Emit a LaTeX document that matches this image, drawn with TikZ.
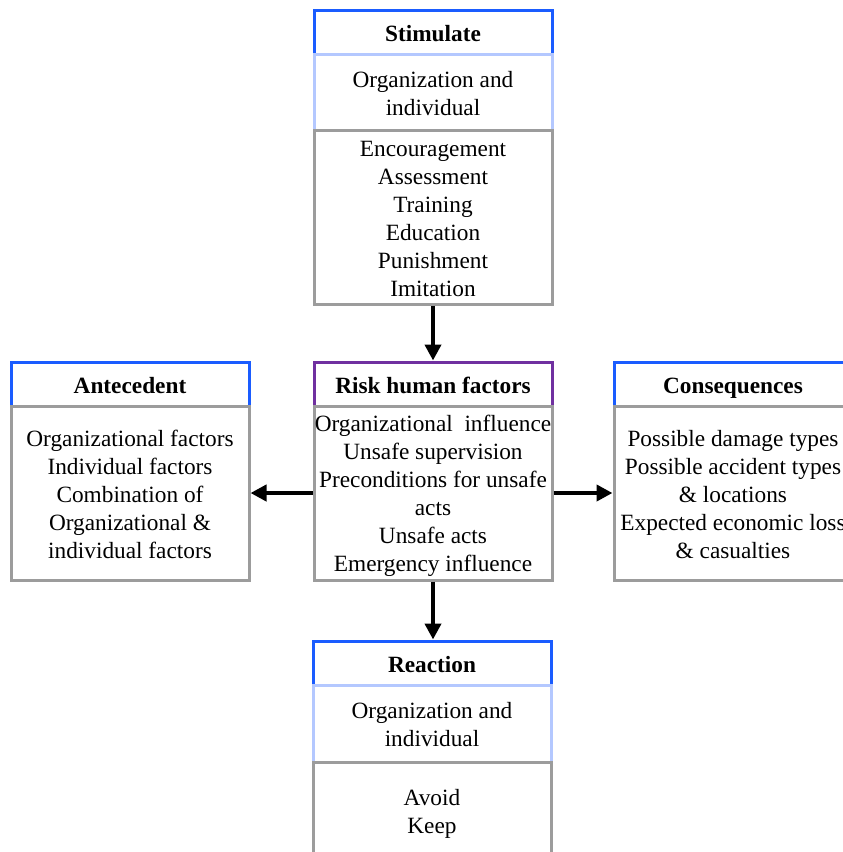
\documentclass[tikz,border=0pt]{standalone}
\usepackage{fontspec}
\setmainfont{Liberation Serif}
\usetikzlibrary{arrows.meta}
\definecolor{hblue}{HTML}{1A5CFF}
\definecolor{lblue}{HTML}{B4C8FF}
\definecolor{bgray}{HTML}{9C9C9C}
\definecolor{hpurple}{HTML}{7030A0}
% keep a fixed baseline distance between text lines
\lineskiplimit=-20pt
% line strut: 23pt above and 5pt below the baseline
\newcommand{\lnstrut}{\rule[-5pt]{0pt}{28pt}}
\begin{document}
\begin{tikzpicture}[x=1pt,y=-1pt,
  every node/.style={font=\fontsize{23.3}{28}\selectfont, align=center, inner sep=0pt},
  boxbase/.style={line width=3pt, minimum width=238pt, fill=white},
  hdr/.style={boxbase, draw=hblue, minimum height=44pt, text height=23pt, text depth=5pt,
    font=\fontsize{23.3}{28}\selectfont\bfseries},
  hdrp/.style={hdr, draw=hpurple},
  midbox/.style={boxbase, draw=lblue},
  bodybox/.style={boxbase, draw=bgray},
  arr/.style={line width=4.5pt, -{Triangle[length=16pt,width=16pt]}}]
\useasboundingbox (0,0) rectangle (843,852);
\clip (0,0) rectangle (843,852);

% Stimulate column (top)
\node[hdr] (stimhdr) at (433,32) {Stimulate};
\node[midbox, minimum height=76pt] (stimmid) at (433,92) {\lnstrut Organization and\\individual\lnstrut};
\node[bodybox, minimum height=174pt] (stimbody) at (433,217)
  {\lnstrut Encouragement\\Assessment\\Training\\Education\\Punishment\\Imitation\lnstrut};

% Risk human factors (centre)
\node[hdrp] (riskhdr) at (433,384) {Risk human factors};
\node[bodybox, minimum height=174pt] (riskbody) at (433,493)
  {\lnstrut Organizational\ \ influence\\Unsafe supervision\\Preconditions for unsafe\\acts\\Unsafe acts\\Emergency influence\lnstrut};

% Antecedent (left)
\node[hdr] (antehdr) at (130,384) {Antecedent};
\node[bodybox, minimum height=174pt] (antebody) at (130,493)
  {\lnstrut Organizational factors\\Individual factors\\Combination of\\Organizational \&\\individual factors\lnstrut};

% Consequences (right)
\node[hdr] (conshdr) at (733,384) {Consequences};
\node[bodybox, minimum height=174pt] (consbody) at (733,493)
  {\lnstrut Possible damage types\\Possible accident types\\\& locations\\Expected economic loss\\\& casualties\lnstrut};

% Reaction column (bottom)
\node[hdr] (reachdr) at (432,663) {Reaction};
\node[midbox, minimum height=77pt] (reacmid) at (432,723.5) {\lnstrut Organization and\\individual\lnstrut};
\node[bodybox, minimum height=96pt] (reacbody) at (432,810) {\lnstrut Avoid\\Keep\lnstrut};

% Connectors
\draw[arr] (stimbody.south) -- (riskhdr.north);
\draw[arr] (riskbody.west) -- (antebody.east);
\draw[arr] (riskbody.east) -- (consbody.west);
\draw[arr] (riskbody.south) -- (riskbody.south |- reachdr.north);
\end{tikzpicture}
\end{document}
